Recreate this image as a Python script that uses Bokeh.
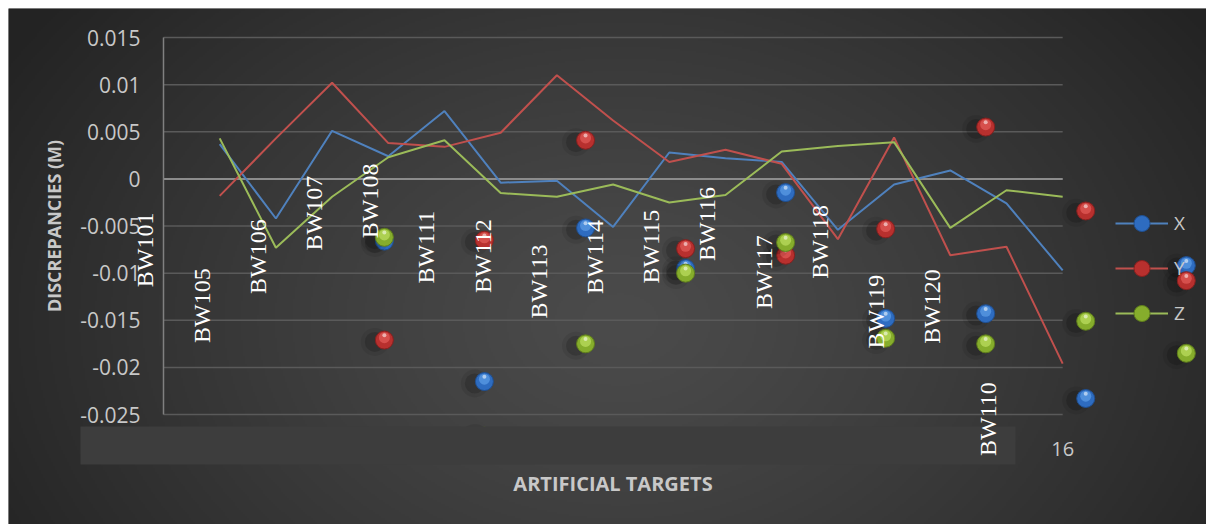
import numpy as np
from math import pi
from bokeh.plotting import figure
from bokeh.models import (ColumnDataSource, FixedTicker, LinearAxis, Legend, LegendItem,
                          BoxAnnotation, Range1d)
from bokeh.transform import dodge
from bokeh.core.properties import value
from bokeh.embed import file_html
from bokeh.resources import INLINE

# ---------------- data ----------------
categories = ["BW101", "BW105", "BW106", "BW107", "BW108", "BW111", "BW112", "BW113",
              "BW114", "BW115", "BW116", "BW117", "BW118", "BW119", "BW120", "BW110"]
label_y = [-0.0115, -0.0174, -0.0122, -0.0076, -0.0063, -0.0111, -0.0121, -0.0148,
           -0.0122, -0.0111, -0.0087, -0.0138, -0.0106, -0.0180, -0.0175, -0.0294]

point_index = list(range(1, 17))
x_line = [0.0037, -0.0042, 0.0051, 0.0024, 0.0072, -0.0004, -0.0002, -0.0051,
          0.0028, 0.0022, 0.0018, -0.0054, -0.0006, 0.0009, -0.0026, -0.0097]
y_line = [-0.0018, 0.0043, 0.0102, 0.0038, 0.0034, 0.0049, 0.0110, 0.0062,
          0.0018, 0.0031, 0.0016, -0.0064, 0.0044, -0.0081, -0.0072, -0.0196]
z_line = [0.0043, -0.0073, -0.0019, 0.0023, 0.0041, -0.0015, -0.0019, -0.0006,
          -0.0025, -0.0017, 0.0029, 0.0035, 0.0039, -0.0052, -0.0012, -0.0019]

marker_x = [3.93, 5.71, 7.51, 9.29, 11.07, 12.85, 14.63, 16.41, 18.20]
x_markers = [-0.0066, -0.0215, -0.0052, -0.0095, -0.00145, -0.0148, -0.0143, -0.0233, -0.0092]
y_markers = [-0.0171, -0.0065, 0.0041, -0.0074, -0.0081, -0.0053, 0.0055, -0.0034, -0.0108]
z_markers = [-0.0062, -0.0273, -0.0175, -0.0100, -0.00675, -0.0169, -0.0175, -0.0151, -0.0185]

ytick_values = [-0.025, -0.02, -0.015, -0.01, -0.005, 0, 0.005, 0.01, 0.015]
ytick_labels = ["-0.025", "-0.02", "-0.015", "-0.01", "-0.005", "0", "0.005", "0.01", "0.015"]
xtick_values = [16]

# ---------------- layout constants ----------------
W, H = 1206, 524
MARGIN = 8
X_START, X_END = -2.758, 18.559
Y_START, Y_END = -0.03667, 0.01808
AXIS_Y = -0.02627          # level of the category axis band
TEXT = "#c8c8c8"
FONT = "Open Sans"

p = figure(width=W, height=H, output_backend="svg", toolbar_location=None,
           x_range=Range1d(X_START, X_END), y_range=Range1d(Y_START, Y_END),
           x_axis_type=None, y_axis_type=None,
           min_border_left=MARGIN, min_border_top=MARGIN,
           min_border_right=0, min_border_bottom=0)
p.outline_line_color = None
p.background_fill_color = "#333333"
p.border_fill_color = "white"

# background radial gradient (style only)
fw, fh = W - MARGIN, H - MARGIN
gw, gh = fw // 2, fh // 2
px = (np.arange(gw) + 0.5) * 2 + MARGIN
py = (np.arange(gh) + 0.5) * 2 + MARGIN
GX, GY = np.meshgrid(px, py)
d = np.sqrt(((GX - 620) / 720) ** 2 + ((GY - 320) / 520) ** 2)
t = np.clip(d, 0, 1) ** 1.25
c = (0x4b + (0x23 - 0x4b) * t).astype(np.uint8)
img = np.zeros((gh, gw), dtype=np.uint32)
view = img.view(dtype=np.uint8).reshape((gh, gw, 4))
view[..., 0] = c
view[..., 1] = c
view[..., 2] = c
view[..., 3] = 255
img = np.ascontiguousarray(img[::-1])
p.image_rgba(image=[img], x=X_START, y=Y_START, dw=X_END - X_START, dh=Y_END - Y_START)

n_cat = len(categories)

# gridlines of the plot area
p.segment(x0=0, x1=n_cat, y0=ytick_values, y1=ytick_values, line_color="#5a5a5a", line_width=1.5)
p.segment(x0=[0], x1=[n_cat], y0=[0], y1=[0], line_color="#8c8c8c", line_width=2)

# axes
yaxis = LinearAxis(ticker=FixedTicker(ticks=ytick_values), fixed_location=0,
                   bounds=(min(ytick_values), max(ytick_values)),
                   major_label_overrides=dict(zip(ytick_values, ytick_labels)),
                   axis_label="DISCREPANCIES (M)")
yaxis.axis_line_color = "#808080"
yaxis.axis_line_width = 1.5
yaxis.major_tick_out = 0
yaxis.major_tick_in = 0
yaxis.minor_tick_line_color = None
yaxis.major_label_standoff = 23
yaxis.major_label_text_font = FONT
yaxis.major_label_text_font_size = "21px"
yaxis.major_label_text_color = TEXT
yaxis.axis_label_standoff = 11
yaxis.axis_label_text_font = FONT
yaxis.axis_label_text_font_style = "bold"
yaxis.axis_label_text_font_size = "18px"
yaxis.axis_label_text_color = TEXT
p.add_layout(yaxis, "left")

xaxis = LinearAxis(ticker=FixedTicker(ticks=xtick_values), fixed_location=AXIS_Y,
                   bounds=(0, n_cat), axis_label="ARTIFICIAL TARGETS")
xaxis.axis_line_color = None
xaxis.major_tick_line_color = None
xaxis.minor_tick_line_color = None
xaxis.major_label_standoff = 10
xaxis.major_label_text_font = FONT
xaxis.major_label_text_font_size = "20px"
xaxis.major_label_text_color = TEXT
xaxis.axis_label_standoff = 10
xaxis.axis_label_text_font = FONT
xaxis.axis_label_text_font_style = "bold"
xaxis.axis_label_text_font_size = "20px"
xaxis.axis_label_text_color = TEXT
p.add_layout(xaxis, "below")

# series lines
lx = p.line(point_index, x_line, line_color="#4f81bd", line_width=2)
ly = p.line(point_index, y_line, line_color="#c0504d", line_width=2)
lz = p.line(point_index, z_line, line_color="#9bbb59", line_width=2)


def spheres(ys, base, edge, light):
    src = ColumnDataSource(dict(x=marker_x, y=ys))
    sx = dodge("x", -0.17, range=p.x_range)
    sy = dodge("y", -0.0002, range=p.y_range)
    p.scatter(sx, sy, source=src, size=28, fill_color="black", fill_alpha=0.08, line_color=None)
    p.scatter(sx, sy, source=src, size=20, fill_color="black", fill_alpha=0.16, line_color=None)
    body = p.scatter("x", "y", source=src, size=18, fill_color=base, line_color=edge, line_width=1)
    p.scatter("x", dodge("y", 0.00025, range=p.y_range), source=src, size=11,
              fill_color=light, fill_alpha=0.75, line_color=None)
    p.scatter("x", dodge("y", 0.0005, range=p.y_range), source=src, size=4,
              fill_color="white", fill_alpha=0.55, line_color=None)
    return body


sx_ = spheres(x_markers, "#2e6cc0", "#1f4f91", "#5b9be4")
sy_ = spheres(y_markers, "#b8302e", "#86201f", "#e05a57")
sz_ = spheres(z_markers, "#86ad2c", "#5f7e1c", "#b9dc5e")

# category label band
band = BoxAnnotation(left=-1.477, right=15.16, top=AXIS_Y, bottom=-0.0303,
                     fill_color="#3d3d3d", fill_alpha=1.0, line_color=None)
p.add_layout(band)

# rotated data labels
p.text(x=list(range(n_cat)), y=label_y, text=categories, angle=pi / 2, x_offset=-18,
       text_align="left", text_baseline="middle", text_font=value("Liberation Serif"),
       text_font_size="24px", text_color="white", level="overlay")

legend = Legend(items=[LegendItem(label="X", renderers=[lx, sx_]),
                       LegendItem(label="Y", renderers=[ly, sy_]),
                       LegendItem(label="Z", renderers=[lz, sz_])],
                location=(1107, 191), orientation="vertical",
                glyph_width=53, glyph_height=40, spacing=5, padding=0, margin=0,
                label_standoff=6, label_text_font=FONT, label_text_font_size="19px",
                label_text_color=TEXT, background_fill_alpha=0, border_line_color=None)
p.add_layout(legend)

open("out.html", "w").write(file_html(p, INLINE))
